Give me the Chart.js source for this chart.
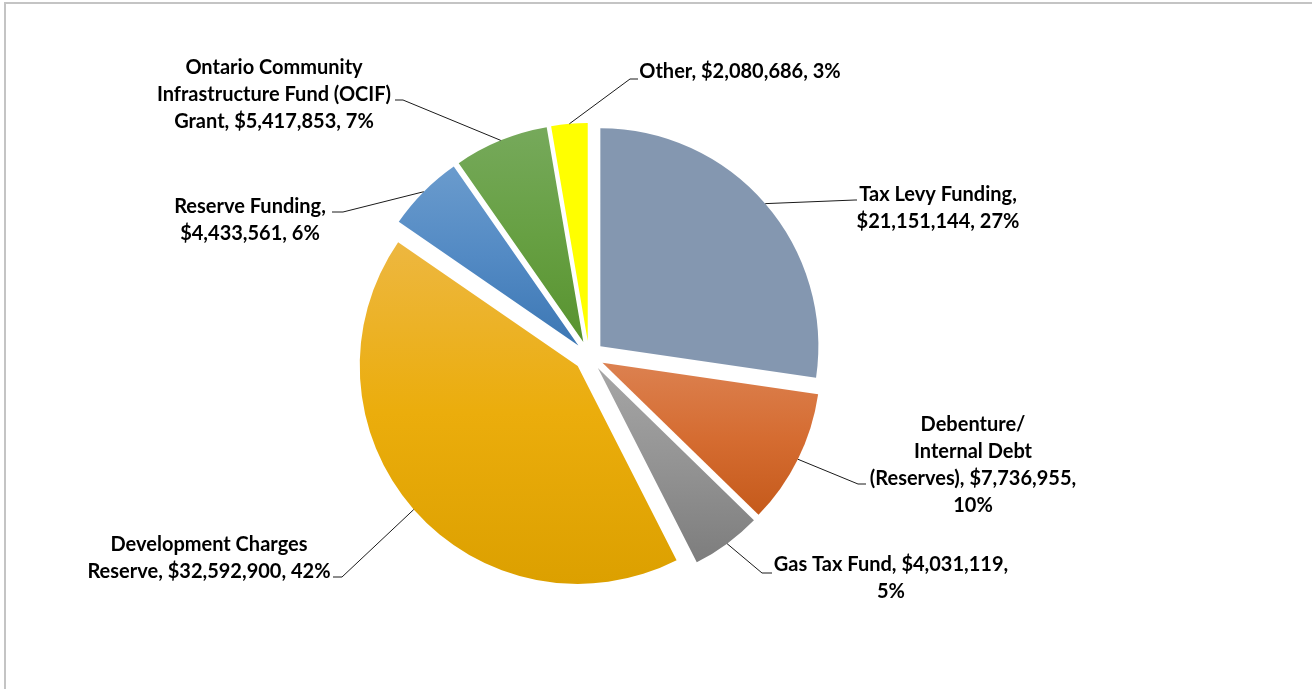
<!DOCTYPE html>
<html>
<head>
<meta charset="utf-8">
<title>Capital Funding Sources</title>
<script src="https://cdn.jsdelivr.net/npm/chart.js@4/dist/chart.umd.min.js"></script>
<style>
    html, body { margin: 0; padding: 0; background: #fff; }
    #wrap { width: 1312px; height: 689px; }
</style>
</head>
<body>
<div id="wrap"><canvas id="fundingPie" width="1312" height="689"></canvas></div>
<script>
// Funding sources, clockwise from 12 o'clock
const categories = [
    'Tax Levy Funding',
    'Debenture/\nInternal Debt\n(Reserves)',
    'Gas Tax Fund',
    'Development Charges Reserve',
    'Reserve Funding',
    'Ontario Community Infrastructure Fund (OCIF) Grant',
    'Other'
];
const amounts = [21151144, 7736955, 4031119, 32592900, 4433561, 5417853, 2080686];

// Slice fills: gradient top -> middle -> bottom
const topColors = ['#8497b0', '#dc8150', '#a6a6a6', '#edb740', '#6a9bcd', '#76a95b', '#ffff00'];
const midColors = ['#8497b0', '#d56c31', '#939393', '#ebad0c', '#538ac4', '#67a043', '#ffff00'];
const bottomColors = ['#8497b0', '#c55a1b', '#7d7d7d', '#dca000', '#3c77b4', '#58932f', '#ffff00'];

// Where each data label sits, and the elbow of its leader line
const labelLayout = [
    { x: 938, y: 195, maxWidth: 185, bend: [855, 200], tail: 857 },
    { x: 973, y: 425, maxWidth: 225, bend: [858, 484], tail: 866 },
    { x: 891, y: 565, maxWidth: 245, bend: [762, 573], tail: 772 },
    { x: 209, y: 545, maxWidth: 252, bend: [342, 577], tail: 333 },
    { x: 250, y: 207, maxWidth: 175, bend: [343, 212], tail: 332 },
    { x: 274, y: 68, maxWidth: 255, bend: [403, 100], tail: 395 },
    { x: 740, y: 72, maxWidth: 400, bend: [630, 79], tail: 638 }
];

const RADIUS = 218;
const EXPLODE = 15;
const LINE_HEIGHT = 27;
const LABEL_FONT = 'bold 20px Lato';

const total = amounts.reduce((a, b) => a + b, 0);

function labelText(i) {
    const pct = Math.round(amounts[i] / total * 100);
    return categories[i] + ', $' + amounts[i].toLocaleString('en-US') + ', ' + pct + '%';
}

function wrapLines(ctx, text, maxWidth) {
    const lines = [];
    text.split('\n').forEach(par => {
        let line = '';
        par.split(' ').forEach(word => {
            const test = line ? line + ' ' + word : word;
            if (line && ctx.measureText(test).width > maxWidth) {
                lines.push(line);
                line = word;
            } else {
                line = test;
            }
        });
        lines.push(line);
    });
    return lines;
}

// vertical gradient spanning the exploded slice's own bounding box
function sliceFill(context) {
    const i = context.dataIndex;
    const chart = context.chart;
    const area = chart.chartArea;
    if (i === undefined || !area) return topColors[0];
    const cy = (area.top + area.bottom) / 2;
    let a0 = -Math.PI / 2;
    for (let k = 0; k < i; k++) a0 += amounts[k] / total * Math.PI * 2;
    const a1 = a0 + amounts[i] / total * Math.PI * 2;
    const ys = [cy, cy + Math.sin(a0) * RADIUS, cy + Math.sin(a1) * RADIUS];
    for (let k = Math.ceil(a0 / (Math.PI / 2)); k * Math.PI / 2 <= a1; k++) {
        ys.push(cy + Math.sin(k * Math.PI / 2) * RADIUS);
    }
    const grad = chart.ctx.createLinearGradient(0, Math.min(...ys), 0, Math.max(...ys));
    grad.addColorStop(0, topColors[i]);
    grad.addColorStop(0.5, midColors[i]);
    grad.addColorStop(1, bottomColors[i]);
    return grad;
}

const explodedPie = {
    id: 'explodedPie',
    beforeDatasetsDraw(chart) {
        const ctx = chart.ctx;
        chart.getDatasetMeta(0).data.forEach(arc => {
            const mid = (arc.startAngle + arc.endAngle) / 2;
            ctx.save();
            ctx.translate(Math.cos(mid) * EXPLODE, Math.sin(mid) * EXPLODE);
            arc.draw(ctx);
            ctx.restore();
        });
        return false;
    },
    afterDraw(chart) {
        const ctx = chart.ctx;
        ctx.save();

        // chart frame
        ctx.strokeStyle = '#c4c4c4';
        ctx.lineWidth = 2;
        ctx.beginPath();
        ctx.moveTo(5, 700);
        ctx.lineTo(5, 3);
        ctx.lineTo(1320, 3);
        ctx.stroke();

        // leader lines + data labels
        ctx.font = LABEL_FONT;
        ctx.textAlign = 'center';
        ctx.textBaseline = 'middle';
        chart.getDatasetMeta(0).data.forEach((arc, i) => {
            const lay = labelLayout[i];
            const mid = (arc.startAngle + arc.endAngle) / 2;
            const r = arc.outerRadius + EXPLODE;
            ctx.strokeStyle = '#1a1a1a';
            ctx.lineWidth = 1;
            ctx.beginPath();
            ctx.moveTo(arc.x + Math.cos(mid) * r, arc.y + Math.sin(mid) * r);
            ctx.lineTo(lay.bend[0], lay.bend[1]);
            ctx.lineTo(lay.tail, lay.bend[1]);
            ctx.stroke();

            ctx.fillStyle = '#000';
            wrapLines(ctx, labelText(i), lay.maxWidth).forEach((line, n) => {
                ctx.fillText(line, lay.x, lay.y + n * LINE_HEIGHT);
            });
        });
        ctx.restore();
    }
};

const ctxPie = document.getElementById('fundingPie').getContext('2d');
const fundingPie = new Chart(ctxPie, {
    type: 'pie',
    data: {
        labels: categories,
        datasets: [{
            data: amounts,
            backgroundColor: sliceFill,
            borderWidth: 0
        }]
    },
    options: {
        responsive: false,
        animation: false,
        events: [],
        radius: RADIUS,
        layout: { padding: { left: 0, right: 134, top: 23, bottom: 0 } },
        plugins: {
            legend: { display: false },
            tooltip: { enabled: false }
        }
    },
    plugins: [explodedPie]
});
</script>
</body>
</html>
